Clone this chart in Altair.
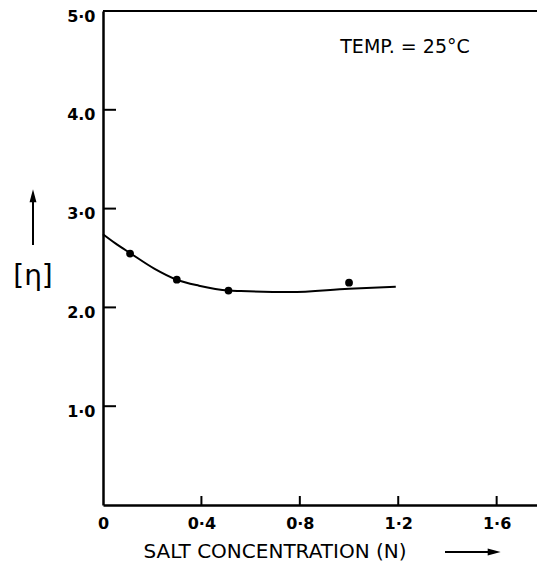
import altair as alt
import pandas as pd

# ---- data ----
curve_x = [0.0, 0.049, 0.113, 0.21, 0.30, 0.39, 0.51, 0.56, 0.76, 1.0, 1.19]
curve_y = [2.74, 2.65, 2.545, 2.39, 2.28, 2.22, 2.17, 2.165, 2.155, 2.19, 2.21]
point_x = [0.11, 0.30, 0.51, 1.0]
point_y = [2.545, 2.28, 2.17, 2.25]
x_ticks = [0.0, 0.4, 0.8, 1.2, 1.6]
x_tick_labels = ["0", "0·4", "0·8", "1·2", "1·6"]
y_ticks = [1, 2, 3, 4, 5]
y_tick_labels = ["1·0", "2.0", "3·0", "4.0", "5·0"]
x_title = ["SALT CONCENTRATION (N)"]
y_title = ["[η]"]
annotation = ["TEMP. = 25°C"]

W, H = 434, 494
FONT = "DejaVu Sans"

xs = alt.Scale(domain=[0, 1.764], nice=False, zero=False)
ys = alt.Scale(domain=[0, 5], nice=False, zero=False)


def label_expr(values, labels):
    expr = "''"
    for v, l in reversed(list(zip(values, labels))):
        expr = f"abs(datum.value - {v}) < 1e-6 ? '{l}' : ({expr})"
    return expr


x_axis = alt.Axis(values=x_ticks, labelExpr=label_expr(x_ticks, x_tick_labels),
                  title=None, ticks=False, tickSize=0, grid=False,
                  domainColor="black", domainWidth=2.5,
                  labelFont=FONT, labelFontSize=16, labelFontWeight="bold",
                  labelColor="black",
                  labelPadding=10, labelFlush=False, labelOverlap=False)
y_axis = alt.Axis(values=y_ticks, labelExpr=label_expr(y_ticks, y_tick_labels),
                  title=None, ticks=False, tickSize=0, grid=False,
                  domainColor="black", domainWidth=2.5,
                  labelFont=FONT, labelFontSize=16, labelFontWeight="bold",
                  labelColor="black",
                  labelPadding=8, labelOffset=5, labelFlush=False, labelOverlap=False)

curve = alt.Chart(pd.DataFrame({"x": curve_x, "y": curve_y})).mark_line(
    color="black", strokeWidth=2, interpolate="monotone"
).encode(x=alt.X("x:Q", scale=xs, axis=x_axis), y=alt.Y("y:Q", scale=ys, axis=y_axis))

points = alt.Chart(pd.DataFrame({"x": point_x, "y": point_y})).mark_circle(
    size=60, color="black", opacity=1
).encode(x=alt.X("x:Q", scale=xs), y=alt.Y("y:Q", scale=ys))

yt = alt.Chart(pd.DataFrame({"y": [v for v in y_ticks if v < 5]})).mark_rule(
    color="black", strokeWidth=2
).encode(y=alt.Y("y:Q", scale=ys), x=alt.value(0), x2=alt.value(13))

xt = alt.Chart(pd.DataFrame({"x": [v for v in x_ticks if v > 0]})).mark_rule(
    color="black", strokeWidth=2
).encode(x=alt.X("x:Q", scale=xs), y=alt.value(H), y2=alt.value(H - 9))

one = pd.DataFrame({"a": [0]})
top = alt.Chart(one).mark_rule(color="black", strokeWidth=2).encode(
    x=alt.value(0), x2=alt.value(W), y=alt.value(0))

temp = alt.Chart(pd.DataFrame({"t": annotation})).mark_text(
    font=FONT, fontSize=19, color="black", align="center", baseline="middle"
).encode(text="t:N", x=alt.value(302), y=alt.value(36))

xtitle = alt.Chart(pd.DataFrame({"t": x_title})).mark_text(
    font=FONT, fontSize=20, color="black", align="center", baseline="middle"
).encode(text="t:N", x=alt.value(172), y=alt.value(541))

ytitle = alt.Chart(pd.DataFrame({"t": y_title})).mark_text(
    font=FONT, fontSize=28, color="black", align="center", baseline="middle"
).encode(text="t:N", x=alt.value(-70), y=alt.value(266))

y_arrow = alt.Chart(one).mark_rule(color="black", strokeWidth=2).encode(
    x=alt.value(-70), y=alt.value(188), y2=alt.value(234))
y_head = alt.Chart(one).mark_point(
    shape="M0,-1L0.4,0.5L-0.4,0.5Z", size=300, filled=True, color="black", opacity=1
).encode(x=alt.value(-70), y=alt.value(187))

x_arrow = alt.Chart(one).mark_rule(color="black", strokeWidth=2).encode(
    x=alt.value(342), x2=alt.value(390), y=alt.value(541))
x_head = alt.Chart(one).mark_point(
    shape="M1,0L-0.5,0.4L-0.5,-0.4Z", size=300, filled=True, color="black", opacity=1
).encode(x=alt.value(389), y=alt.value(541))

chart = alt.layer(
    curve, points, yt, xt, top, temp, xtitle, ytitle, y_arrow, y_head, x_arrow, x_head
).properties(
    width=W, height=H,
    autosize=alt.AutoSizeParams(type="none"),
    padding={"left": 95, "top": 3, "right": 0, "bottom": 59},
    background="white",
).configure_view(stroke=None)

chart.save("out.html", embed_options={"renderer": "svg", "actions": False})
